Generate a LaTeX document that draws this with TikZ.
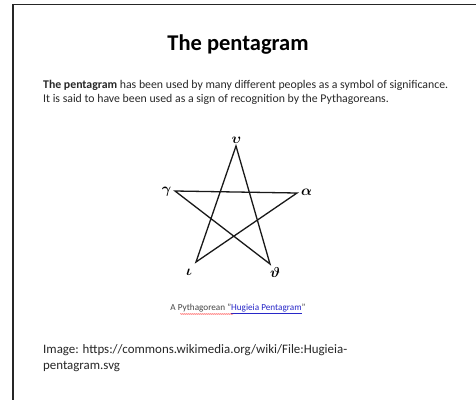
\documentclass[tikz,border=0pt]{standalone}
\usepackage{fontspec}
\setmainfont{Carlito}
\usepackage{amsmath}
\usetikzlibrary{decorations.pathmorphing}
\definecolor{bodytext}{RGB}{40,40,40}
\definecolor{captext}{RGB}{70,70,70}
\definecolor{linkblue}{RGB}{40,40,200}
\begin{document}
\begin{tikzpicture}[x=1pt,y=-1pt,
  frame/.style={line width=1.4pt, draw=black!85},
  starline/.style={line width=1.3pt, line join=miter, black!90},
  letter/.style={inner sep=0pt, font=\fontsize{14}{14}\selectfont},
  body/.style={anchor=west, inner sep=0pt, text=bodytext, font=\fontsize{11.8}{13}\selectfont},
  src/.style={anchor=west, inner sep=0pt, text=black!85, font=\fontsize{12.9}{15}\selectfont}]
\useasboundingbox (0,0) rectangle (476,400);
\fill[white] (0,0) rectangle (476,400);
% frame
\coordinate (fTR) at (476,4.5);
\coordinate (fTL) at (13,4.5);
\coordinate (fBL) at (13,400);
\draw[frame] (fTR) -- (fTL) -- (fBL);
% title
\node[inner sep=0pt, font=\fontsize{22.5}{26}\bfseries\selectfont] (title) at (238,45) {The pentagram};
% body
\node[body] (l1) at (43,85) {\textbf{The pentagram} has been used by many different peoples as a symbol of significance.};
\node[body] (l2) at (43,99) {It is said to have been used as a sign of recognition by the Pythagoreans.};
% star
\coordinate (vT) at (236,146);
\coordinate (vL) at (175,191);
\coordinate (vR) at (297,193);
\coordinate (vBL) at (196,262);
\coordinate (vBR) at (270,264);
\draw[starline] (vT) -- (vBL) -- (vR) -- (vL) -- (vBR) -- cycle;
\node[letter] (lu) at (236.5,140) {$\boldsymbol{\upsilon}$};
\node[letter] (lg) at (166.5,192) {$\boldsymbol{\gamma}$};
\node[letter] (la) at (306.5,192) {$\boldsymbol{\alpha}$};
\node[letter] (li) at (189,272) {$\boldsymbol{\iota}$};
\node[letter] (lt) at (275,272) {$\boldsymbol{\vartheta}$};
% caption
\node[inner sep=0pt, text=captext, font=\fontsize{9.2}{11}\selectfont] (cap) at (238,309)
  {A Pythagorean "\textcolor{linkblue}{\underline{Hugieia Pentagram}}"};
\coordinate (sqA) at ([xshift=10pt,yshift=-5pt]cap.west);
\coordinate (sqB) at ([xshift=63pt,yshift=-5pt]cap.west);
\draw[red!80, line width=0.4pt, decorate, decoration={snake, amplitude=0.5pt, segment length=2pt}] (sqA) -- (sqB);
% source
\node[src] (s1) at (43,350) {Image: https://commons.wikimedia.org/wiki/File:Hugieia-};
\node[src] (s2) at (43,367) {pentagram.svg};
\end{tikzpicture}
\end{document}
